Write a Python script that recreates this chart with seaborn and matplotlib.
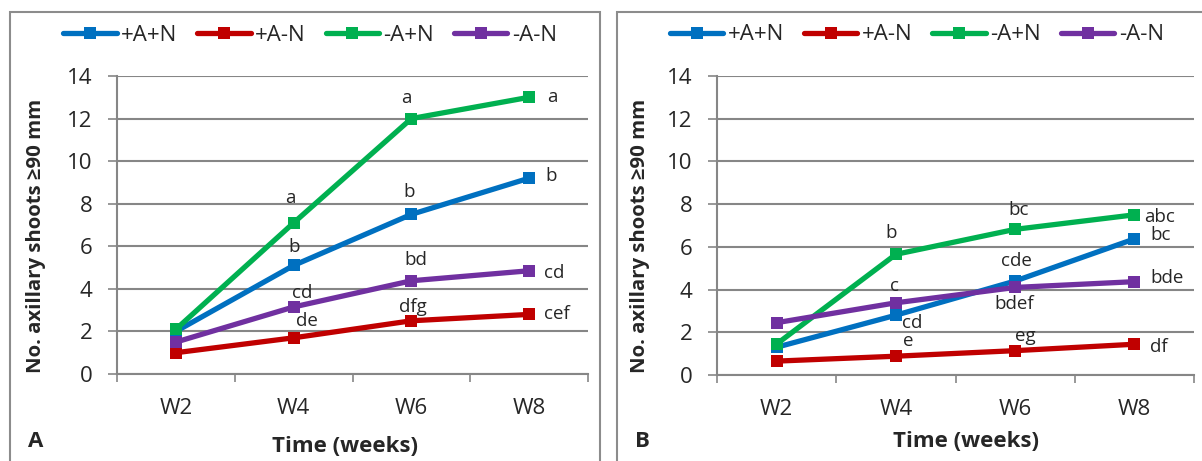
import pandas as pd
import numpy as np
import matplotlib
matplotlib.use('Agg')
import matplotlib.pyplot as plt
import seaborn as sns
from matplotlib.patches import Rectangle
from matplotlib.lines import Line2D

sns.set_style('white')
plt.rcParams['font.family'] = ['Open Sans', 'DejaVu Sans']

weeks = ['W2', 'W4', 'W6', 'W8']
treatments = ['+A+N', '+A-N', '-A+N', '-A-N']
colors = ['#0070C0', '#C00000', '#00B050', '#7030A0']

# panel A
a_pApN = [2.0, 5.1, 7.5, 9.2]
a_pAmN = [1.0, 1.7, 2.5, 2.8]
a_mApN = [2.1, 7.1, 12.0, 13.0]
a_mAmN = [1.5, 3.15, 4.38, 4.85]

# panel B
b_pApN = [1.3, 2.8, 4.4, 6.37]
b_pAmN = [0.65, 0.88, 1.14, 1.44]
b_mApN = [1.45, 5.65, 6.82, 7.5]
b_mAmN = [2.45, 3.38, 4.1, 4.37]

# significance letters (W2 has none)
a_letters = [['', 'b', 'b', 'b'], ['', 'de', 'dfg', 'cef'],
             ['', 'a', 'a', 'a'], ['', 'cd', 'bd', 'cd']]
b_letters = [['', 'cd', 'cde', 'bc'], ['', 'e', 'eg', 'df'],
             ['', 'b', 'bc', 'abc'], ['', 'c', 'bdef', 'bde']]

# label offsets in pixels (dx, dy) relative to each point
a_offsets = [[None, (0, 18), (-2, 22), (22, 2)],
             [None, (13, 17), (2, 14), (28, 0)],
             [None, (-3, 25), (-5, 21), (23, 0)],
             [None, (9, 14), (4, 21), (25, -2)]]
b_offsets = [[None, (16, -8), (1, 20), (26, 4)],
             [None, (12, 15), (10, 15), (24, -3)],
             [None, (-5, 21), (4, 19), (25, -2)],
             [None, (-1, 17), (-1, -17), (33, 4)]]


def make_df(series):
    rows = []
    for name, vals in zip(treatments, series):
        for w, v in zip(weeks, vals):
            rows.append({'week': w, 'treatment': name, 'value': v})
    return pd.DataFrame(rows)


df_a = make_df([a_pApN, a_pAmN, a_mApN, a_mAmN])
df_b = make_df([b_pApN, b_pAmN, b_mApN, b_mAmN])

fig = plt.figure(figsize=(12.02, 4.61), dpi=100)

# outer frames of the two panels
fig.patches.append(Rectangle((10 / 1202, -0.1), 590 / 1202, 1 - 12 / 461 + 0.1,
                             transform=fig.transFigure, fill=False,
                             edgecolor='#8c8c8c', lw=1.5))
fig.patches.append(Rectangle((617 / 1202, -0.1), 600 / 1202, 1 - 12 / 461 + 0.1,
                             transform=fig.transFigure, fill=False,
                             edgecolor='#8c8c8c', lw=1.5))

ax_a = fig.add_axes([117 / 1202, 87 / 461, 471 / 1202, 298 / 461])
ax_b = fig.add_axes([717 / 1202, 86 / 461, 477 / 1202, 299 / 461])

grey = '#868686'
panels = [(ax_a, df_a, a_letters, a_offsets, 36, 345, 446, 0.41),
          (ax_b, df_b, b_letters, b_offsets, 640, 966, 441, 0.419)]

for ax, df, letters, offsets, ylab_x, xlab_x, xlab_y, leg_x in panels:
    sns.lineplot(data=df, x='week', y='value', hue='treatment',
                 hue_order=treatments, palette=colors, marker='s',
                 markersize=8, markeredgewidth=0, linewidth=3.8,
                 sort=False, legend=False, ax=ax)
    ax.set_xlim(-0.5, 3.5)
    ax.set_ylim(0, 14)
    ax.set_yticks(np.arange(0, 15, 2))
    ax.set_xticks(range(len(weeks)))
    ax.set_xticklabels(weeks)
    ax.set_xticks(np.arange(-0.5, 4, 1), minor=True)
    ax.yaxis.grid(True, color=grey, lw=1.5)
    ax.set_axisbelow(True)
    for s in ['top', 'right']:
        ax.spines[s].set_visible(False)
    for s in ['left', 'bottom']:
        ax.spines[s].set_color(grey)
        ax.spines[s].set_linewidth(1.5)
    ax.tick_params(axis='y', which='major', left=True, length=6.5, width=1.2,
                   color=grey, labelsize=16, pad=11)
    ax.tick_params(axis='x', which='major', bottom=False, length=0,
                   labelsize=16, pad=17)
    ax.tick_params(axis='x', which='minor', bottom=True, length=6, width=1.2,
                   color=grey)
    ax.set_xlabel('')
    ax.set_ylabel('')

    for i, name in enumerate(treatments):
        vals = df[df['treatment'] == name]['value'].values
        for j in range(len(weeks)):
            if letters[i][j] == '':
                continue
            dx, dy = offsets[i][j]
            ax.annotate(letters[i][j], (j, vals[j]), xytext=(dx, dy),
                        textcoords='offset pixels', ha='center', va='center',
                        fontsize=13.5)

    fig.text(ylab_x / 1202, 1 - 236 / 461, 'No. axillary shoots ≥90 mm',
             rotation=90, ha='center', va='center', fontsize=14.7,
             fontweight='bold')
    fig.text(xlab_x / 1202, 1 - xlab_y / 461, 'Time (weeks)', ha='center',
             va='center', fontsize=16, fontweight='bold')

    handles = [Line2D([], [], color=c, lw=3.8, marker='s', markersize=8,
                      markeredgewidth=0, solid_capstyle='round')
               for c in colors]
    ax.legend(handles, treatments, loc='center', ncol=4,
              bbox_to_anchor=(leg_x, 1 + 41 / 298), frameon=False,
              fontsize=16, handlelength=2.4, handletextpad=0.2,
              columnspacing=0.9, borderaxespad=0)

fig.text(36 / 1202, 1 - 441 / 461, 'A', ha='center', va='center',
         fontsize=16, fontweight='bold')
fig.text(642 / 1202, 1 - 441 / 461, 'B', ha='center', va='center',
         fontsize=16, fontweight='bold')

fig.savefig('out.png', dpi=100)
